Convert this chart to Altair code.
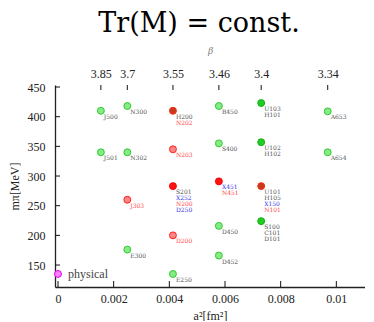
import altair as alt
import pandas as pd

# ---- data ----
point_names = ["J500", "J501", "N300", "N302", "J303", "E300", "H200", "N203", "S201", "D200", "E250",
               "B450", "S400", "X451", "D450", "D452", "U103", "U102", "U101", "S100", "A653", "A654", "physical"]
point_a2 = [0.00154, 0.00154, 0.00249, 0.00249, 0.00249, 0.00249, 0.00413, 0.00413, 0.00413, 0.00413, 0.00413,
            0.00578, 0.00578, 0.00578, 0.00578, 0.00578, 0.00730, 0.00730, 0.00730, 0.00730, 0.00969, 0.00969, 0.0]
point_mpi = [410, 340, 418, 340, 260, 176, 410, 345, 283, 200, 135,
             418, 355, 291, 216, 166, 423, 357, 283, 224, 409, 340, 135]
point_kind = ["lg", "lg", "lg", "lg", "lr", "lg", "br", "lr", "sr", "lr", "lg",
              "lg", "lg", "sr", "lg", "lg", "sg", "sg", "br", "sg", "lg", "lg", "mg"]

kind_fill = {"lg": "#86ea86", "sg": "#22cc22", "lr": "#ff8484", "sr": "#ff1414", "br": "#c23c1e", "mg": "#ff80ff"}
kind_stroke = {"lg": "#2ecc2e", "sg": "#14b014", "lr": "#ff2020", "sr": "#f00000", "br": "#ff2a10", "mg": "#e600e6"}

# label lines: (point, line index, text, colour key)
label_point = ["J500", "J501", "N300", "N302", "J303", "E300", "H200", "H200", "N203",
               "S201", "S201", "S201", "S201", "D200", "E250", "B450", "S400", "X451", "X451",
               "D450", "D452", "U103", "U103", "U102", "U102", "U101", "U101", "U101", "U101",
               "S100", "S100", "S100", "A653", "A654"]
label_line = [0, 0, 0, 0, 0, 0, 0, 1, 0,
              0, 1, 2, 3, 0, 0, 0, 0, 0, 1,
              0, 0, 0, 1, 0, 1, 0, 1, 2, 3,
              0, 1, 2, 0, 0]
label_text = ["J500", "J501", "N300", "N302", "J303", "E300", "H200", "N202", "N203",
              "S201", "X252", "N200", "D250", "D200", "E250", "B450", "S400", "X451", "N451",
              "D450", "D452", "U103", "H101", "U102", "H102", "U101", "H105", "X150", "N101",
              "S100", "C101", "D101", "A653", "A654"]
label_col = ["k", "k", "k", "k", "r", "k", "k", "r", "r",
             "k", "b", "r", "b", "r", "k", "k", "k", "b", "r",
             "k", "k", "k", "k", "k", "k", "k", "k", "b", "r",
             "k", "k", "k", "k", "k"]
col_map = {"k": "#555555", "r": "#ff4a4a", "b": "#3a3ae8"}

x_ticks = [0.0, 0.002, 0.004, 0.006, 0.008, 0.010]
y_ticks = [150, 200, 250, 300, 350, 400, 450]
beta_a2 = [0.00154, 0.00249, 0.00413, 0.00578, 0.00730, 0.00969]
beta_labels = ["3.85", "3.7", "3.55", "3.46", "3.4", "3.34"]

# ---- tables ----
pts = pd.DataFrame({"name": point_names, "a2": point_a2, "mpi": point_mpi, "kind": point_kind})
pts["fill"] = pts["kind"].map(kind_fill)
pts["stroke"] = pts["kind"].map(kind_stroke)

pos = dict(zip(point_names, zip(point_a2, point_mpi)))
labs = pd.DataFrame({"pt": label_point, "line": label_line, "text": label_text, "c": label_col})
labs["a2"] = [pos[p][0] for p in label_point]
labs["mpi"] = [pos[p][1] for p in label_point]
labs["color"] = labs["c"].map(col_map)

phys = pts[pts["name"] == "physical"].copy()
phys["text"] = ["physical"]

W, H = 310, 202
FONT = "Liberation Serif"
xscale = alt.Scale(domain=[-0.000108, 0.01103], nice=False, zero=False)
yscale = alt.Scale(domain=[113, 453.4], nice=False, zero=False)

label_expr = " : ".join(
    [f"abs(datum.value - {v}) < 0.00001 ? '{t}'" for v, t in zip(beta_a2, beta_labels)]) + " : ''"

points = alt.Chart(pts).mark_circle(size=48, strokeWidth=1, opacity=1).encode(
    x=alt.X("a2:Q", scale=xscale,
            axis=alt.Axis(orient="bottom", values=x_ticks, format="~g", title="a²[fm²]",
                          ticks=False, domain=True, domainColor="#222", domainWidth=1.3,
                          labelPadding=6, titlePadding=6, grid=False, labelOverlap=False)),
    y=alt.Y("mpi:Q", scale=yscale,
            axis=alt.Axis(orient="left", values=y_ticks, format="d", title="mπ[MeV]", ticks=False,
                          domain=True, domainColor="#222", domainWidth=1.3, labelPadding=10,
                          titlePadding=6, grid=False, labelOverlap=False)),
    fill=alt.Fill("fill:N", scale=None),
    stroke=alt.Stroke("stroke:N", scale=None),
)

top_ticks = alt.Chart(pd.DataFrame({"a2": beta_a2})).mark_rule(color="#111", strokeWidth=1).encode(
    x=alt.X("a2:Q", scale=xscale,
            axis=alt.Axis(orient="top", values=beta_a2, labelExpr=label_expr, title="β",
                          titleColor="#777", titleFontSize=10, titleFontStyle="italic",
                          ticks=False, domain=False, labelPadding=5, titlePadding=12, grid=False,
                          labelOverlap=False)),
    y=alt.value(0), y2=alt.value(5),
)

bottom_ticks = alt.Chart(pd.DataFrame({"a2": x_ticks})).mark_rule(color="#111", strokeWidth=1).encode(
    x=alt.X("a2:Q", scale=xscale, axis=None), y=alt.value(H), y2=alt.value(H - 6),
)

left_ticks = alt.Chart(pd.DataFrame({"mpi": y_ticks})).mark_rule(color="#111", strokeWidth=1).encode(
    y=alt.Y("mpi:Q", scale=yscale, axis=None), x=alt.value(0), x2=alt.value(5),
)

label_layers = []
for ln in range(4):
    label_layers.append(
        alt.Chart(labs[labs["line"] == ln]).mark_text(
            align="left", baseline="middle", dx=3, dy=6 + 6 * ln, fontSize=6, font="DejaVu Serif"
        ).encode(
            x=alt.X("a2:Q", scale=xscale, axis=None), y=alt.Y("mpi:Q", scale=yscale, axis=None),
            text="text:N", color=alt.Color("color:N", scale=None),
        )
    )

phys_text = alt.Chart(phys).mark_text(
    align="left", baseline="middle", dx=10, fontSize=12, font=FONT, color="#444"
).encode(x=alt.X("a2:Q", scale=xscale, axis=None), y=alt.Y("mpi:Q", scale=yscale, axis=None),
         text="text:N")

chart = alt.layer(
    top_ticks, points, bottom_ticks, left_ticks, *label_layers, phys_text
).resolve_axis(x="independent", y="independent").properties(
    width=W, height=H, padding={"top": 2, "left": 0, "right": 0, "bottom": 0},
    title=alt.TitleParams("Tr(M) = const.", fontSize=27, font="DejaVu Serif", fontWeight="normal",
                          anchor="middle", dx=-11, offset=7, color="#000"),
).configure_view(stroke=None).configure_axis(
    labelFont=FONT, labelFontSize=12, labelColor="#222", titleFont=FONT, titleFontSize=12,
    titleFontWeight="normal", titleColor="#222",
)

chart.save("out.html", embed_options={"renderer": "svg", "actions": False})
